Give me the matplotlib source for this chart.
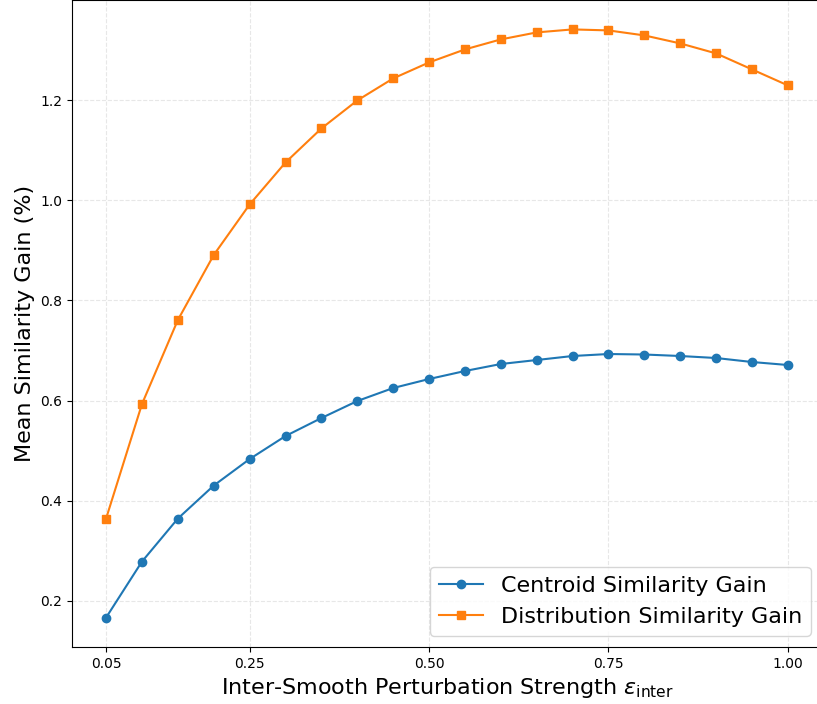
import matplotlib
matplotlib.use("Agg")
import matplotlib.pyplot as plt

# 扰动强度
eps = [0.05, 0.10, 0.15, 0.20, 0.25, 0.30, 0.35, 0.40, 0.45, 0.50,
       0.55, 0.60, 0.65, 0.70, 0.75, 0.80, 0.85, 0.90, 0.95, 1.00]
centroid_gain = [0.166, 0.278, 0.364, 0.430, 0.483, 0.529, 0.565, 0.599, 0.625, 0.643,
                 0.659, 0.673, 0.681, 0.689, 0.693, 0.692, 0.689, 0.685, 0.677, 0.671]
distribution_gain = [0.364, 0.593, 0.761, 0.891, 0.992, 1.076, 1.144, 1.200, 1.244, 1.276,
                     1.302, 1.322, 1.336, 1.342, 1.340, 1.330, 1.314, 1.294, 1.262, 1.230]
x_ticks = [0.05, 0.25, 0.50, 0.75, 1.00]
y_ticks = [0.2, 0.4, 0.6, 0.8, 1.0, 1.2]

fig = plt.figure(figsize=(8.17, 7.04), dpi=100)
ax = fig.add_axes([72 / 817, 57 / 704, 750 / 817, 647 / 704])

ax.plot(eps, centroid_gain, marker="o", color="#1f77b4", lw=1.5, ms=6,
        label="Centroid Similarity Gain")
ax.plot(eps, distribution_gain, marker="s", color="#ff7f0e", lw=1.5, ms=6,
        label="Distribution Similarity Gain")

ax.set_xticks(x_ticks)
ax.set_xticklabels(["%.2f" % t for t in x_ticks])
ax.set_yticks(y_ticks)
ax.tick_params(labelsize=10)
ax.grid(True, linestyle="--", alpha=0.3)

ax.set_xlabel(r"Inter-Smooth Perturbation Strength $\varepsilon_{\mathrm{inter}}$", fontsize=16)
ax.set_ylabel("Mean Similarity Gain (%)", fontsize=16)
ax.legend(loc="lower right", fontsize=16)

fig.savefig("out.png", dpi=100)
